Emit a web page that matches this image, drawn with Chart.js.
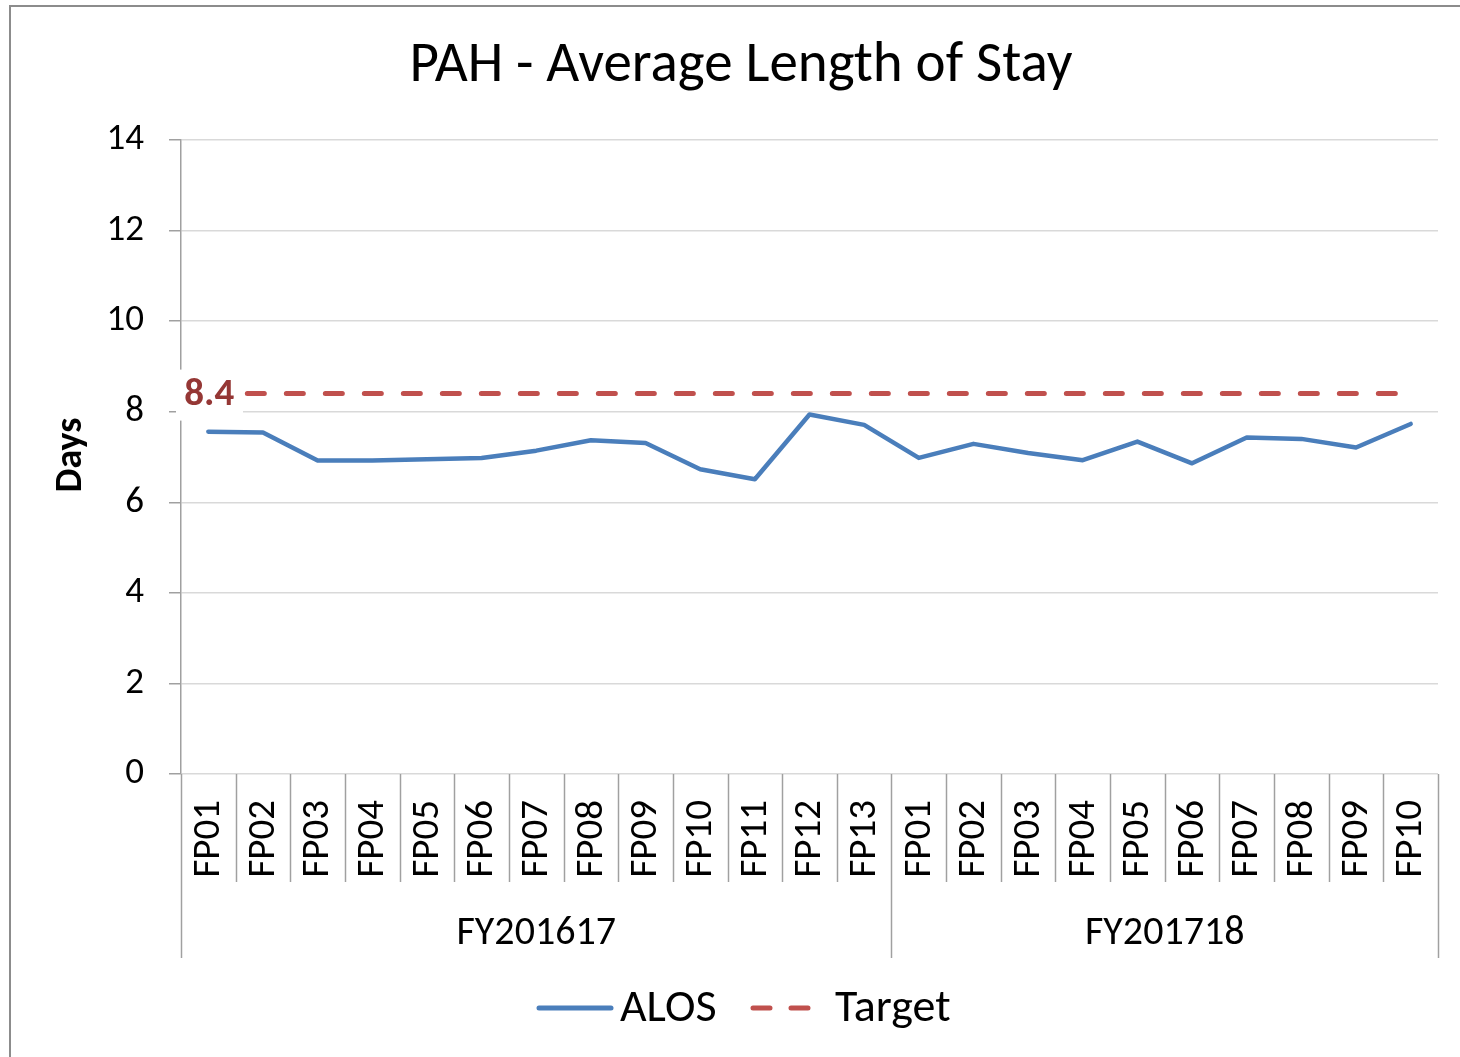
<!DOCTYPE html>
<html>
<head>
<meta charset="utf-8">
<title>PAH - Average Length of Stay</title>
<script src="https://cdn.jsdelivr.net/npm/chart.js@4.4.1/dist/chart.umd.min.js"></script>
<style>
  html, body { margin: 0; padding: 0; background: #fff; }
  #wrap { width: 1460px; height: 1057px; }
</style>
</head>
<body>
<div id="wrap"><canvas id="alos-chart" width="1460" height="1057"></canvas></div>
<script>
// ── Data ──────────────────────────────────────────────────────────────────────
const PERIODS = ['FP01','FP02','FP03','FP04','FP05','FP06','FP07','FP08','FP09','FP10','FP11','FP12','FP13',
                 'FP01','FP02','FP03','FP04','FP05','FP06','FP07','FP08','FP09','FP10'];
const YEARS   = ['FY201617', 'FY201718'];
const YEAR_LEN = [13, 10];
const ALOS    = [7.56, 7.54, 6.92, 6.92, 6.95, 6.98, 7.14, 7.37, 7.31, 6.73, 6.51, 7.94, 7.71,
                 6.98, 7.29, 7.09, 6.93, 7.34, 6.86, 7.43, 7.40, 7.21, 7.73];
const TARGET  = [8.4, 8.4, 8.4, 8.4, 8.4, 8.4, 8.4, 8.4, 8.4, 8.4, 8.4, 8.4, 8.4,
                 8.4, 8.4, 8.4, 8.4, 8.4, 8.4, 8.4, 8.4, 8.4, 8.4];
const Y_MIN = 0, Y_MAX = 14, Y_STEP = 2;

const FONT   = 'Calibri, Carlito, Lato, "Open Sans", sans-serif';
const BLUE   = '#4A7EBB';
const RED    = '#C0504D';
const AXIS   = '#a0a0a0';
const GRID   = '#d9d9d9';

// ── Decorations: frame, titles, two-level x axis, target label, legend ───────
const decor = {
  id: 'decor',
  beforeDraw(chart) {
    const ctx = chart.ctx;
    ctx.save();
    ctx.fillStyle = '#fff';
    ctx.fillRect(0, 0, chart.width, chart.height);
    ctx.strokeStyle = '#8c8c8c'; ctx.lineWidth = 2;
    ctx.beginPath();
    ctx.moveTo(10, chart.height); ctx.lineTo(10, 6); ctx.lineTo(chart.width, 6);
    ctx.stroke();
    ctx.restore();
  },
  afterDraw(chart) {
    const ctx = chart.ctx, x = chart.scales.x, area = chart.chartArea;
    ctx.save();

    // title
    ctx.fillStyle = '#000';
    ctx.font = `57px ${FONT}`;
    ctx.textAlign = 'center'; ctx.textBaseline = 'middle';
    ctx.fillText('PAH - Average Length of Stay', 741, 67);

    // y axis title
    ctx.save();
    ctx.translate(71, 455); ctx.rotate(-Math.PI / 2);
    ctx.font = `bold 38px ${FONT}`;
    ctx.fillText('Days', 0, 0);
    ctx.restore();

    // category separators + labels
    const n = PERIODS.length;
    const step = x.getPixelForValue(1) - x.getPixelForValue(0);
    const bounds = new Set([0]);
    let acc = 0;
    YEAR_LEN.forEach(l => { acc += l; bounds.add(acc); });
    ctx.strokeStyle = AXIS; ctx.lineWidth = 1.5;
    for (let i = 0; i <= n; i++) {
      const bx = Math.round(x.getPixelForValue(0) - step / 2 + i * step) + 0.5;
      ctx.beginPath();
      ctx.moveTo(bx, area.bottom);
      ctx.lineTo(bx, bounds.has(i) ? 958 : 882);
      ctx.stroke();
    }
    ctx.font = `39px ${FONT}`;
    ctx.fillStyle = '#000';
    PERIODS.forEach((lbl, i) => {
      ctx.save();
      ctx.translate(x.getPixelForValue(i) + 1, 800);
      ctx.rotate(-Math.PI / 2);
      ctx.textAlign = 'right'; ctx.textBaseline = 'middle';
      ctx.fillText(lbl, 0, 0);
      ctx.restore();
    });
    ctx.font = `40px ${FONT}`;
    let start = 0;
    YEARS.forEach((yr, g) => {
      const a = x.getPixelForValue(start) - step / 2;
      const b = x.getPixelForValue(start + YEAR_LEN[g] - 1) + step / 2;
      ctx.textAlign = 'center'; ctx.textBaseline = 'middle';
      ctx.fillText(yr, (a + b) / 2, 934);
      start += YEAR_LEN[g];
    });

    // legend
    const ly = 1008;
    ctx.lineCap = 'round';
    ctx.strokeStyle = BLUE; ctx.lineWidth = 5;
    ctx.beginPath(); ctx.moveTo(539, ly); ctx.lineTo(611, ly); ctx.stroke();
    ctx.strokeStyle = RED;
    ctx.beginPath(); ctx.moveTo(753, ly); ctx.lineTo(770, ly); ctx.moveTo(791, ly); ctx.lineTo(808, ly); ctx.stroke();
    ctx.fillStyle = '#000';
    ctx.font = `46px ${FONT}`;
    ctx.textAlign = 'left'; ctx.textBaseline = 'middle';
    ctx.fillText('ALOS', 620, ly + 1);
    ctx.fillText('Target', 835, ly + 1);
    ctx.restore();
  },
  afterDatasetsDraw(chart) {
    // data label for the target value on its first point
    const ctx = chart.ctx;
    const pt = chart.getDatasetMeta(1).data[0];
    ctx.save();
    ctx.fillStyle = '#fff';
    ctx.fillRect(176, pt.y - 24, 67, 51);
    ctx.fillStyle = '#953735';
    ctx.font = `bold 39px ${FONT}`;
    ctx.textAlign = 'center'; ctx.textBaseline = 'middle';
    ctx.fillText(TARGET[0].toFixed(1), pt.x + 1, pt.y + 2);
    ctx.restore();
  }
};

new Chart(document.getElementById('alos-chart'), {
  type: 'line',
  data: {
    labels: PERIODS,
    datasets: [
      { label: 'ALOS', data: ALOS, borderColor: BLUE, borderWidth: 4.5, pointRadius: 0,
        tension: 0, borderJoinStyle: 'round', borderCapStyle: 'round', fill: false },
      { label: 'Target', data: TARGET, borderColor: RED, borderWidth: 5, pointRadius: 0,
        borderDash: [17, 22], borderCapStyle: 'round', tension: 0, fill: false },
    ],
  },
  options: {
    responsive: false,
    animation: false,
    devicePixelRatio: 1,
    layout: { padding: { left: 0, top: 140, right: 22, bottom: 0 } },
    plugins: { legend: { display: false }, title: { display: false }, tooltip: { enabled: false } },
    scales: {
      x: {
        type: 'category', offset: true,
        ticks: { display: false },
        grid: { display: false },
        border: { display: false },
        afterFit: s => { s.height = 283; },
      },
      y: {
        min: Y_MIN, max: Y_MAX,
        ticks: { stepSize: Y_STEP, color: '#000', padding: 25, font: { family: FONT, size: 37 } },
        grid: { color: GRID, lineWidth: 1.5, tickLength: 12, tickColor: AXIS, drawTicks: true },
        border: { display: true, color: AXIS, width: 1.5 },
        afterFit: s => { s.width = 181; },
      },
    },
  },
  plugins: [decor],
});
</script>
</body>
</html>
